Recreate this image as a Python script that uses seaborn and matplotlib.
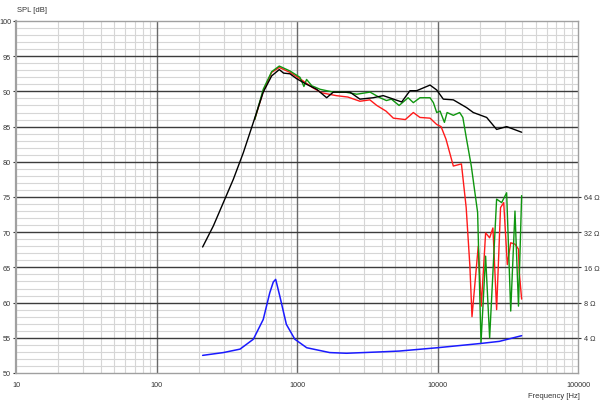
import numpy as np
import pandas as pd
import seaborn as sns
import matplotlib
matplotlib.use("Agg")
import matplotlib.pyplot as plt
from matplotlib.ticker import FixedLocator, NullFormatter

# SPL curves (Hz, dB)
freq_black = [213, 254, 299, 352, 415, 489, 575, 660, 748, 802, 891, 995, 1172, 1380,
              1626, 1813, 2380, 2805, 3490, 4110, 5560, 6370, 7110, 8850, 9870, 11000,
              12960, 16100, 17980, 22380, 26350, 31050, 39700]
spl_black = [67.9, 70.9, 74.2, 77.5, 81.3, 85.6, 89.9, 92.2, 93.1, 92.6, 92.5, 91.8, 91.0, 90.3,
             89.1, 89.9, 89.9, 88.9, 89.1, 89.4, 88.5, 90.1, 90.1, 90.9, 90.2, 88.9,
             88.8, 87.7, 87.0, 86.3, 84.6, 85.0, 84.2]

freq_green = [500, 575, 660, 748, 891, 1050, 1120, 1170, 1275, 1460, 1813, 2200, 2660, 3310,
              3900, 4330, 4700, 5330, 6180, 6730, 7500, 8850, 9350, 9870, 10430, 11200,
              11700, 12960, 14380, 15150, 16100, 17400, 19300, 20400, 22000, 23500, 26350,
              28600, 31050, 33200, 35600, 37700, 39700]
spl_green = [86.0, 90.3, 92.8, 93.6, 92.9, 92.0, 90.7, 91.7, 90.8, 90.3, 89.9, 89.9, 89.6, 89.9,
             89.1, 88.7, 88.9, 88.0, 89.1, 88.4, 89.1, 89.1, 88.4, 87.0, 87.2, 85.6,
             87.0, 86.6, 87.0, 86.3, 83.2, 79.4, 72.8, 54.3, 66.6, 55.0, 74.7,
             74.2, 75.6, 58.8, 73.0, 59.5, 75.2]

freq_red = [500, 575, 660, 748, 891, 1050, 1300, 1500, 1900, 2300, 2805, 3300, 3700, 4300,
            4850, 5900, 6730, 7500, 8850, 9870, 10600, 11500, 12960, 14800, 16000, 17000,
            17600, 19500, 20500, 22000, 23500, 24800, 26350, 28100, 29600, 31400, 33200,
            35600, 37700, 38200, 39700]
spl_red = [86.0, 90.0, 92.7, 93.4, 92.7, 91.8, 90.5, 89.8, 89.4, 89.2, 88.6, 88.8, 88.0, 87.2,
           86.2, 86.0, 87.0, 86.3, 86.2, 85.3, 85.0, 83.2, 79.4, 79.7, 73.5, 65.2,
           58.0, 68.0, 59.5, 69.9, 69.2, 70.6, 59.0, 73.5, 74.2, 65.4, 68.5,
           68.3, 67.6, 64.3, 60.5]

# impedance curve (Hz, ohm)
freq_imp = [213, 299, 393, 489, 575, 640, 678, 705, 755, 840, 965, 1172, 1710, 2250,
            3900, 5330, 10000, 20400, 27600, 39700]
imp_ohm = [2.83, 2.99, 3.20, 3.89, 5.74, 9.71, 12.0, 12.64, 9.06, 5.21, 3.89, 3.29, 2.99, 2.95,
           3.03, 3.08, 3.29, 3.58, 3.73, 4.17]

x_ticks = [10, 100, 1000, 10000, 100000]
y_ticks = [50, 55, 60, 65, 70, 75, 80, 85, 90, 95, 100]
ohm_ticks = [4, 8, 16, 32, 64]

sns.set_style("white")
plt.rcParams['font.family'] = ['Liberation Sans', 'DejaVu Sans']

fig = plt.figure(figsize=(6, 4.06), dpi=100)
ax = fig.add_axes([16 / 600, 1 - 374 / 406, 562 / 600, 352 / 406])

sns.lineplot(x=freq_black, y=spl_black, ax=ax, color="black", lw=1.0, zorder=5)
sns.lineplot(x=freq_red, y=spl_red, ax=ax, color="#ff1a1a", lw=1.0, zorder=4)
sns.lineplot(x=freq_green, y=spl_green, ax=ax, color="#0f960f", lw=1.0, zorder=4)

ax.set_xscale("log")
ax.set_xlim(10, 100000)
ax.set_ylim(50, 100)

# light grid from minor ticks, strong lines drawn on top of it
minor_x = [m * 10 ** d for d in range(1, 5) for m in range(2, 10)]
ax.xaxis.set_major_locator(FixedLocator(x_ticks))
ax.xaxis.set_minor_locator(FixedLocator(minor_x))
ax.xaxis.set_minor_formatter(NullFormatter())
ax.set_xticklabels([str(t) for t in x_ticks])
ax.yaxis.set_major_locator(FixedLocator(y_ticks))
ax.yaxis.set_minor_locator(FixedLocator(list(range(50, 101))))
ax.grid(which="minor", axis="both", color="#d6d6d6", lw=0.8)
ax.set_axisbelow(True)
for t in x_ticks[1:-1]:
    ax.axvline(t, color="#6a6a6a", lw=1.0, zorder=1)
for t in y_ticks[1:-1]:
    ax.axhline(t, color="#3c3c3c", lw=1.0, zorder=1)

ax.tick_params(axis="both", which="major", labelsize=5.2, colors="#333333",
               length=2, pad=1.5, width=0.8)
ax.tick_params(axis="x", which="major", length=0, pad=6)
ax.tick_params(which="minor", length=0)
for s in ax.spines.values():
    s.set_color("#a0a0a0")
    s.set_linewidth(1.0)
ax.spines["left"].set_linewidth(1.6)

# impedance on right axis
ax2 = ax.twinx()
sns.lineplot(x=freq_imp, y=imp_ohm, ax=ax2, color="#1a1aff", lw=1.1)
ax2.set_yscale("log", base=2)
ax2.set_ylim(2, 2048)
ax2.yaxis.set_major_locator(FixedLocator(ohm_ticks))
ax2.yaxis.set_minor_locator(FixedLocator([]))
ax2.set_yticklabels([f"{t} \u03a9" for t in ohm_ticks])
ax2.tick_params(axis="y", labelsize=5.2, colors="#333333", length=2.5, pad=1.5, width=0.8)
ax2.grid(False)
for s in ax2.spines.values():
    s.set_visible(False)

fig.text(17 / 600, 1 - 10 / 406, "SPL [dB]", fontsize=5.5, color="#333333", va="center")
fig.text(580 / 600, 1 - 397 / 406, "Frequency [Hz]", fontsize=5.5, color="#333333",
         va="center", ha="right")

fig.savefig("out.png", dpi=100)
